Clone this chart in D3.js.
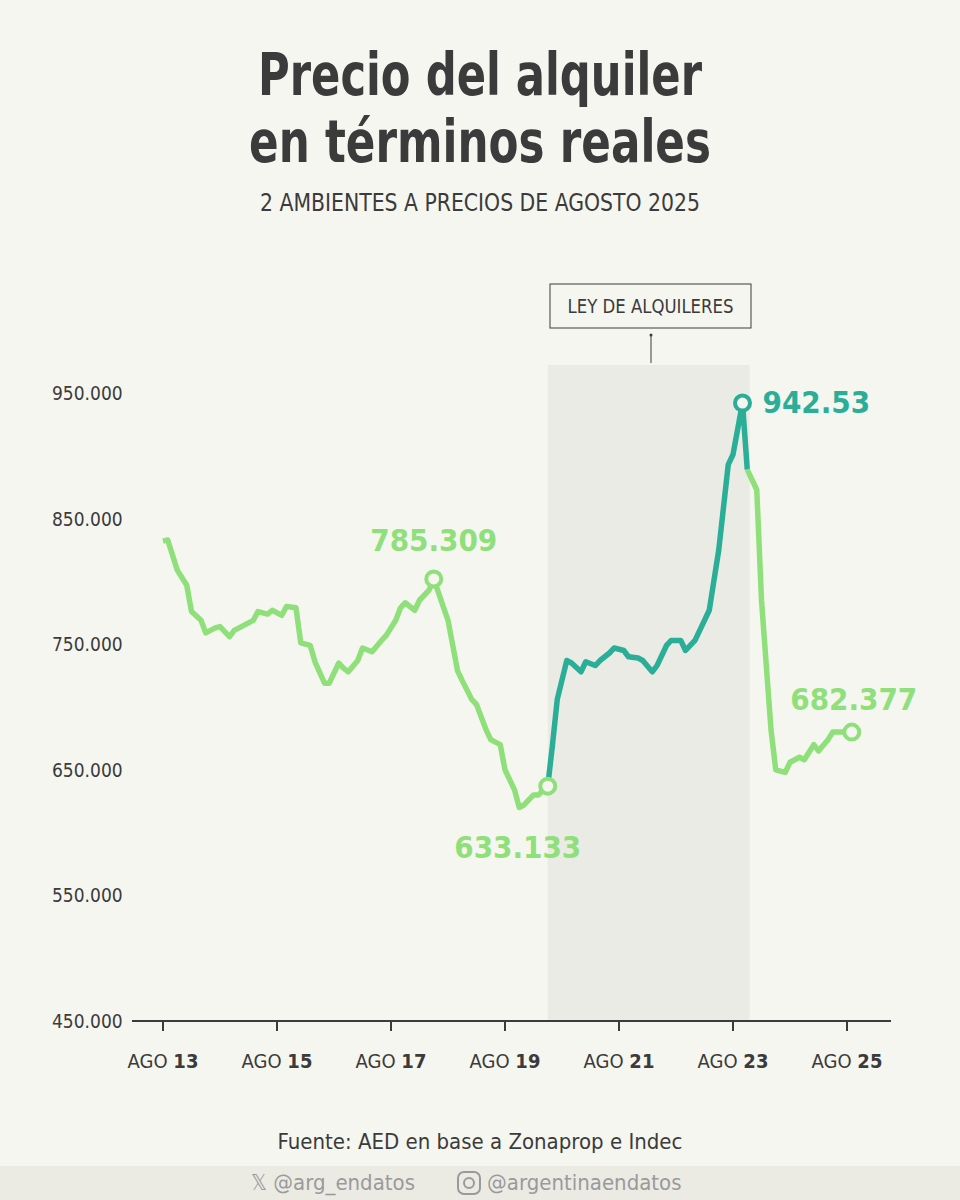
<!DOCTYPE html>
<html><head><meta charset="utf-8">
<script src="https://cdn.jsdelivr.net/npm/d3@7"></script>
<style>
body{margin:0;background:#f6f6f0}
svg{display:block;font-family:"DejaVu Sans",sans-serif;font-stretch:condensed}
</style></head><body>
<svg id="c" width="960" height="1200"></svg>
<script>
// [months since Aug 2013, real rent in ARS]
var rentSeries = [
 [0,832000],[1,833000],[3,809000],[5,797000],[6,776000],[8,769000],[9,759000],[11,763000],
 [12,764000],[14,756000],[15,761000],[17,765000],[19,769000],[20,776000],[22,774000],[23,777000],
 [25,773000],[26,780000],[28,779000],[29,751000],[31,749000],[32,736000],[34,719000],[35,719000],
 [37,735000],[38,731000],[39,728000],[41,737000],[42,747000],[44,744000],[46,753000],[47,757000],
 [49,769000],[50,779000],[51,783000],[53,777000],[54,785000],[56,793000],[57,802000],[59,780000],
 [60,769000],[62,729000],[63,721000],[65,706000],[66,702000],[68,682000],[69,674000],[71,670000],
 [72,650000],[74,634000],[75,620000],[76,622000],[78,630000],[79,630000],[81,637000],[82,670000],
 [83,706000],[85,737000],[86,735000],[88,728000],[89,736000],[91,733000],[92,737000],[94,743000],
 [95,747000],[97,745000],[98,740000],[100,739000],[101,737000],[103,728000],[104,733000],[106,749000],
 [107,753000],[109,753000],[110,745000],[112,753000],[113,761000],[115,777000],[116,801000],[117,825000],
 [119,893000],[120,901000],[122,942000],[123,889000],[125,873000],[126,785000],[128,682000],[129,650000],
 [131,648000],[132,656000],[134,660000],[135,658000],[137,670000],[138,665000],[140,674000],[141,680000],
 [143,680000],[145,680000]
];
var lawStart = 81, lawEnd = 123;
var shadeStart = 81, shadeEnd = 123.5;
var yTicks = [450000,550000,650000,750000,850000,950000];
var yTickLabels = ["450.000","550.000","650.000","750.000","850.000","950.000"];
var xTicks = [0,24,48,72,96,120,144];
var xTickLabels = ["13","15","17","19","21","23","25"];
var callouts = [
 {m:57, text:"785.309", dx:0, dy:-28, anchor:"middle", color:"#8fe07b"},
 {m:81, text:"633.133", dx:-30, dy:72, anchor:"middle", color:"#8fe07b"},
 {m:122, text:"942.53", dx:20, dy:10, anchor:"start", color:"#2bae97"},
 {m:145, text:"682.377", dx:2, dy:-22, anchor:"middle", color:"#8fe07b"}
];
var light = "#8fe07b", dark = "#2bae97", ink = "#3b3b3b";

var svg = d3.select("#c");
var x = d3.scaleLinear().domain([0,144]).range([163,847]);
var y = d3.scaleLinear().domain([450000,950000]).range([1021,393]);

svg.append("rect").attr("x",x(shadeStart)).attr("width",x(shadeEnd)-x(shadeStart))
  .attr("y",365).attr("height",1021-365).attr("fill","#ebebe5");

svg.append("text").attr("x",480).attr("y",95).attr("text-anchor","middle")
  .attr("font-size",58).attr("font-weight","bold").attr("fill",ink)
  .attr("textLength",444).attr("lengthAdjust","spacingAndGlyphs").text("Precio del alquiler");
svg.append("text").attr("x",480).attr("y",162).attr("text-anchor","middle")
  .attr("font-size",58).attr("font-weight","bold").attr("fill",ink)
  .attr("textLength",462).attr("lengthAdjust","spacingAndGlyphs").text("en términos reales");
svg.append("text").attr("x",480).attr("y",211).attr("text-anchor","middle")
  .attr("font-size",24).attr("fill",ink)
  .attr("textLength",440).attr("lengthAdjust","spacingAndGlyphs").text("2 AMBIENTES A PRECIOS DE AGOSTO 2025");

svg.append("rect").attr("x",550).attr("y",284).attr("width",201).attr("height",44)
  .attr("fill","#f6f6f0").attr("stroke",ink).attr("stroke-width",1);
svg.append("text").attr("x",650.5).attr("y",313).attr("text-anchor","middle")
  .attr("font-size",20).attr("fill",ink)
  .attr("textLength",166).attr("lengthAdjust","spacingAndGlyphs").text("LEY DE ALQUILERES");
svg.append("line").attr("x1",651).attr("x2",651).attr("y1",334).attr("y2",363).attr("stroke",ink);
svg.append("circle").attr("cx",651).attr("cy",335).attr("r",1.5).attr("fill",ink);

svg.selectAll(".yl").data(yTicks).enter().append("text")
  .attr("x",52).attr("y",function(d){return y(d)+7}).attr("font-size",19).attr("fill",ink)
  .text(function(d,i){return yTickLabels[i]});

svg.append("line").attr("x1",132).attr("x2",891).attr("y1",1021).attr("y2",1021)
  .attr("stroke",ink).attr("stroke-width",2);
svg.selectAll(".xt").data(xTicks).enter().append("line")
  .attr("x1",x).attr("x2",x).attr("y1",1021).attr("y2",1031).attr("stroke",ink).attr("stroke-width",2);
var xl = svg.selectAll(".xl").data(xTicks).enter().append("text")
  .attr("x",x).attr("y",1068).attr("text-anchor","middle").attr("font-size",20).attr("fill",ink);
xl.append("tspan").text("AGO ");
xl.append("tspan").attr("font-weight","bold").text(function(d,i){return xTickLabels[i]});

var line = d3.line().x(function(d){return x(d[0])}).y(function(d){return y(d[1])});
var pre = rentSeries.filter(function(d){return d[0]<=lawStart});
var mid = rentSeries.filter(function(d){return d[0]>=lawStart && d[0]<=lawEnd});
var post = rentSeries.filter(function(d){return d[0]>=lawEnd});
[[pre,light],[mid,dark],[post,light]].forEach(function(p){
  svg.append("path").attr("d",line(p[0])).attr("fill","none").attr("stroke",p[1])
    .attr("stroke-width",5.5).attr("stroke-linejoin","round");
});

callouts.forEach(function(c){
  var d = rentSeries.filter(function(r){return r[0]===c.m})[0];
  var cx = x(d[0]), cy = y(d[1]);
  svg.append("circle").attr("cx",cx).attr("cy",cy).attr("r",7.5)
    .attr("fill","#f6f6f0").attr("stroke",c.color).attr("stroke-width",4);
  svg.append("text").attr("x",cx+c.dx).attr("y",cy+c.dy).attr("text-anchor",c.anchor)
    .attr("font-size",31).attr("font-weight","bold").attr("fill",c.color).text(c.text);
});

svg.append("text").attr("x",480).attr("y",1149).attr("text-anchor","middle")
  .attr("font-size",22).attr("fill",ink).text("Fuente: AED en base a Zonaprop e Indec");
svg.append("rect").attr("x",0).attr("y",1166).attr("width",960).attr("height",34).attr("fill","#ebebe4");
svg.append("text").attr("x",333).attr("y",1190).attr("text-anchor","middle")
  .attr("font-size",22).attr("fill","#9a9a9a").text("𝕏 @arg_endatos");
svg.append("rect").attr("x",458).attr("y",1172).attr("width",22).attr("height",22).attr("rx",6)
  .attr("fill","none").attr("stroke","#9a9a9a").attr("stroke-width",2);
svg.append("circle").attr("cx",469).attr("cy",1183).attr("r",5)
  .attr("fill","none").attr("stroke","#9a9a9a").attr("stroke-width",2);
svg.append("text").attr("x",487).attr("y",1190).attr("font-size",22).attr("fill","#9a9a9a")
  .text("@argentinaendatos");
</script></body></html>
